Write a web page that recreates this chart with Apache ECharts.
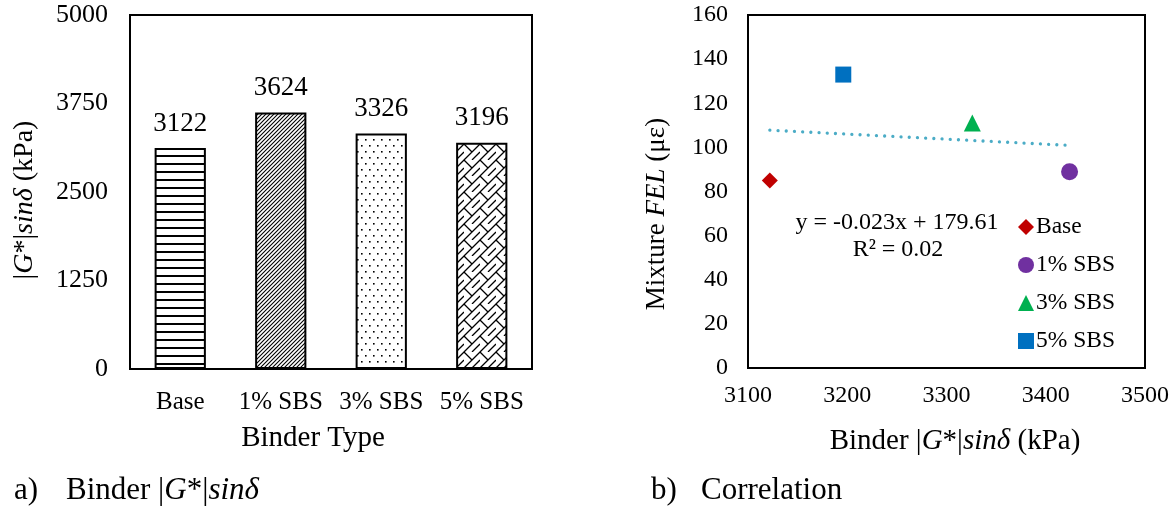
<!DOCTYPE html>
<html>
<head>
<meta charset="utf-8">
<script src="https://cdn.jsdelivr.net/npm/echarts@6/dist/echarts.min.js"></script>
<style>html,body{margin:0;padding:0;background:#fff;}#c{width:1176px;height:508px;}</style>
</head>
<body>
<div id="c"></div>
<script>
// ---- data ----
const barCategories = ['Base', '1% SBS', '3% SBS', '5% SBS'];
const barValues = [3122, 3624, 3326, 3196];
const leftYTicks = [0, 1250, 2500, 3750, 5000];

const scatterNames = ['Base', '1% SBS', '3% SBS', '5% SBS'];
const scatterX = [3122, 3424, 3326, 3196];
const scatterY = [85, 89, 111, 133];
const trendX = [3122, 3424];
const trendY = [107.8, 100.9];
const equationText = 'y = -0.023x + 179.61';
const r2Text = 'R² = 0.02';

// ---- styles ----
const FONT = 'Liberation Serif';
const markerSymbols = ['diamond', 'circle', 'triangle', 'rect'];
const markerColors = ['#c00000', '#7030a0', '#00b050', '#0070c0'];
const markerSizes = [16, 17, 17, 16];

function makePattern(kind) {
  const c = document.createElement('canvas');
  const ctx = c.getContext('2d');
  if (kind === 0) {
    c.width = 8; c.height = 8;
    ctx.fillStyle = '#fff'; ctx.fillRect(0, 0, 8, 8);
    ctx.fillStyle = '#000'; ctx.fillRect(0, 3, 8, 2);
  } else if (kind === 1) {
    c.width = 4; c.height = 4;
    ctx.fillStyle = '#fff'; ctx.fillRect(0, 0, 4, 4);
    ctx.strokeStyle = '#000'; ctx.lineWidth = 1.1;
    ctx.beginPath();
    ctx.moveTo(-1, 5); ctx.lineTo(5, -1);
    ctx.moveTo(-1, 1); ctx.lineTo(1, -1);
    ctx.moveTo(3, 5); ctx.lineTo(5, 3);
    ctx.stroke();
  } else if (kind === 2) {
    c.width = 8; c.height = 12;
    ctx.fillStyle = '#fff'; ctx.fillRect(0, 0, 8, 12);
    ctx.fillStyle = '#000';
    ctx.fillRect(1, 1, 1.6, 1.6);
    ctx.fillRect(5, 7, 1.6, 1.6);
  } else {
    c.width = 16; c.height = 16;
    ctx.fillStyle = '#fff'; ctx.fillRect(0, 0, 16, 16);
    ctx.strokeStyle = '#000'; ctx.lineWidth = 1.3;
    ctx.beginPath();
    ctx.moveTo(0, 16); ctx.lineTo(16, 0);
    ctx.moveTo(0, 0); ctx.lineTo(8, 8);
    ctx.moveTo(8, 16); ctx.lineTo(16, 8);
    ctx.moveTo(-1, 1); ctx.lineTo(1, -1);
    ctx.moveTo(15, 17); ctx.lineTo(17, 15);
    ctx.stroke();
  }
  return c;
}

const chart = echarts.init(document.getElementById('c'), null, { renderer: 'canvas' });

const barData = barValues.map((v, i) => ({
  value: v,
  itemStyle: { color: { image: makePattern(i), repeat: 'repeat' }, borderColor: '#000', borderWidth: 2 }
}));

const scatterSeries = scatterNames.map((n, i) => ({
  type: 'scatter',
  name: n,
  xAxisIndex: 1, yAxisIndex: 1,
  symbol: markerSymbols[i],
  symbolSize: markerSizes[i],
  itemStyle: { color: markerColors[i], opacity: 1 },
  data: [[scatterX[i], scatterY[i]]],
  z: 3
}));

const plain = v => String(v);
const rich = (size) => ({
  n: { fontFamily: FONT, fontSize: size, fill: '#000' },
  i: { fontFamily: FONT, fontSize: size, fontStyle: 'italic', fill: '#000' }
});

const option = {
  backgroundColor: '#fff',
  animation: false,
  textStyle: { fontFamily: FONT, color: '#000' },
  grid: [
    { left: 130, top: 15, width: 402, height: 354, show: true, borderColor: '#000', borderWidth: 2, backgroundColor: 'transparent' },
    { left: 748, top: 15, width: 397, height: 353, show: true, borderColor: '#000', borderWidth: 2, backgroundColor: 'transparent' }
  ],
  xAxis: [
    {
      type: 'category', gridIndex: 0, data: barCategories,
      axisLine: { show: false }, axisTick: { show: false },
      axisLabel: { fontFamily: FONT, fontSize: 25, color: '#000', margin: 21, interval: 0 }
    },
    {
      type: 'value', gridIndex: 1, min: 3100, max: 3500, interval: 100,
      axisLine: { show: false }, axisTick: { show: false }, splitLine: { show: false },
      axisLabel: { fontFamily: FONT, fontSize: 24, color: '#000', margin: 16, formatter: plain }
    }
  ],
  yAxis: [
    {
      type: 'value', gridIndex: 0, min: leftYTicks[0], max: leftYTicks[leftYTicks.length - 1], interval: leftYTicks[1] - leftYTicks[0],
      axisLine: { show: false }, axisTick: { show: false }, splitLine: { show: false },
      axisLabel: { fontFamily: FONT, fontSize: 26, color: '#000', margin: 22, formatter: plain }
    },
    {
      type: 'value', gridIndex: 1, min: 0, max: 160, interval: 20,
      axisLine: { show: false }, axisTick: { show: false }, splitLine: { show: false },
      axisLabel: { fontFamily: FONT, fontSize: 24, color: '#000', margin: 20, formatter: plain }
    }
  ],
  legend: {
    data: scatterNames,
    orient: 'vertical',
    left: 1013, top: 210,
    itemWidth: 16, itemHeight: 16, itemGap: 14,
    textStyle: { fontFamily: FONT, fontSize: 23.5, color: '#000', lineHeight: 24, padding: [0, 0, 0, -3] }
  },
  series: [
    {
      type: 'bar', xAxisIndex: 0, yAxisIndex: 0,
      barWidth: '51%',
      data: barData,
      label: { show: true, position: 'top', distance: 11, fontFamily: FONT, fontSize: 27, color: '#000' }
    },
    {
      type: 'line', name: 'trend', xAxisIndex: 1, yAxisIndex: 1,
      data: trendX.map((x, i) => [x, trendY[i]]),
      showSymbol: false, symbol: 'none',
      lineStyle: { color: '#4bacc6', width: 3.3, type: [0.01, 8.2], cap: 'round' },
      z: 2, silent: true
    },
    ...scatterSeries
  ],
  graphic: [
    {
      type: 'text', x: 25, y: 200, rotation: Math.PI / 2,
      style: { text: '{n||}{i|G}{n|*|}{i|sinδ}{n| (kPa)}', align: 'center', verticalAlign: 'middle', rich: rich(28) }
    },
    {
      type: 'text', x: 313, y: 438,
      style: { text: 'Binder Type', fontFamily: FONT, fontSize: 29, fill: '#000', align: 'center', verticalAlign: 'middle' }
    },
    {
      type: 'text', x: 657, y: 214, rotation: Math.PI / 2,
      style: { text: '{n|Mixture }{i|FEL}{n| (με)}', align: 'center', verticalAlign: 'middle', rich: rich(27) }
    },
    {
      type: 'text', x: 955, y: 441,
      style: { text: '{n|Binder |}{i|G}{n|*|}{i|sinδ}{n| (kPa)}', align: 'center', verticalAlign: 'middle', rich: rich(29) }
    },
    {
      type: 'text', x: 897, y: 223,
      style: { text: equationText, fontFamily: FONT, fontSize: 24, fill: '#000', align: 'center', verticalAlign: 'middle' }
    },
    {
      type: 'text', x: 898, y: 250,
      style: { text: r2Text, fontFamily: FONT, fontSize: 24, fill: '#000', align: 'center', verticalAlign: 'middle' }
    },
    {
      type: 'text', x: 14, y: 491,
      style: { text: 'a)', fontFamily: FONT, fontSize: 31, fill: '#000', align: 'left', verticalAlign: 'middle' }
    },
    {
      type: 'text', x: 66, y: 491,
      style: { text: '{n|Binder |}{i|G}{n|*|}{i|sinδ}', align: 'left', verticalAlign: 'middle', rich: rich(31) }
    },
    {
      type: 'text', x: 651, y: 491,
      style: { text: 'b)', fontFamily: FONT, fontSize: 31, fill: '#000', align: 'left', verticalAlign: 'middle' }
    },
    {
      type: 'text', x: 701, y: 491,
      style: { text: 'Correlation', fontFamily: FONT, fontSize: 31, fill: '#000', align: 'left', verticalAlign: 'middle' }
    }
  ]
};
chart.setOption(option);
</script>
</body>
</html>
